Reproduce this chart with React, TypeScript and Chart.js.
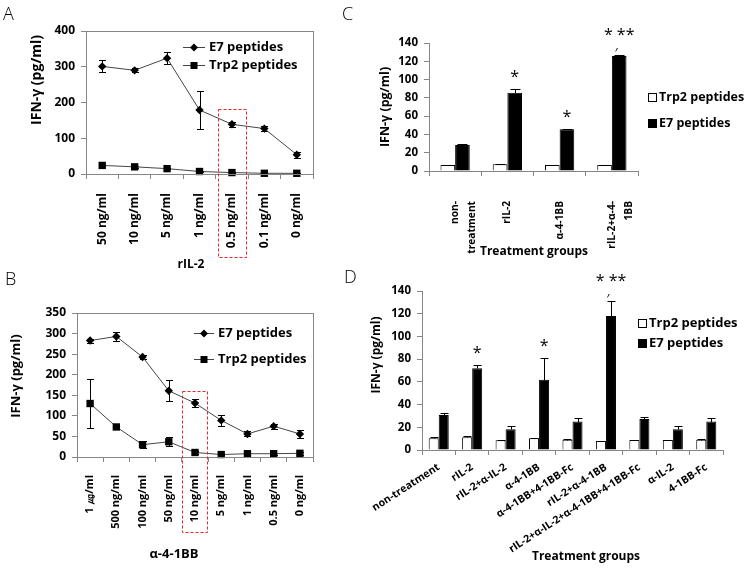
import React, { useEffect, useRef } from 'react';
import { Chart, registerables } from 'chart.js';

Chart.register(...registerables);

const FONT = "'Open Sans', 'DejaVu Sans', sans-serif";

// ---------- Panel A (rIL-2 titration) ----------
const aLabels = ['50 ng/ml', '10 ng/ml', '5 ng/ml', '1 ng/ml', '0.5 ng/ml', '0.1 ng/ml', '0 ng/ml'];
const aE7 = [301, 290, 324, 179, 139, 127, 54];
const aE7Err = [17, 6, 16, 52, 7, 8, 8];
const aTrp2 = [24, 20, 15, 7, 4, 2, 2];
const aTrp2Err = [2, 2, 2, 2, 1, 1, 1];
const aYTicks = { min: 0, max: 400, step: 100 };

// ---------- Panel B (anti-4-1BB titration) ----------
const bLabels = ['1 ㎍/ml', '500 ng/ml', '100 ng/ml', '50 ng/ml', '10 ng/ml', '5 ng/ml', '1 ng/ml', '0.5 ng/ml', '0 ng/ml'];
const bE7 = [283, 293, 243, 161, 131, 89, 56, 75, 56];
const bE7Err = [5, 11, 4, 26, 9, 13, 6, 6, 9];
const bTrp2 = [130, 73, 30, 37, 11, 6, 8, 8, 9];
const bTrp2Err = [59, 4, 9, 11, 4, 2, 2, 2, 3];
const bYTicks = { min: 0, max: 350, step: 50 };

// ---------- Panel C (treatment groups) ----------
const cLabels = [['non-', 'treatment'], 'rIL-2', 'α-4-1BB', ['rIL-2+α-4-', '1BB']];
const cTrp2 = [6.5, 7.3, 6.5, 6.5];
const cTrp2Err = [0.4, 0.4, 0.4, 0.4];
const cE7 = [28.4, 85.5, 45.8, 125.8];
const cE7Err = [0.6, 4.5, 0.6, 0.6];
const cSig = ['', '*', '*', '* **\n′'];
const cYTicks = { min: 0, max: 140, step: 20 };

// ---------- Panel D (treatment groups with blocking) ----------
const dLabels = ['non-treatment', 'rIL-2', 'rIL-2+α-IL-2', 'α-4-1BB', 'α-4-1BB+4-1BB-Fc', 'rIL-2+α-4-1BB', 'rIL-2+α-IL-2+α-4-1BB+4-1BB-Fc', 'α-IL-2', '4-1BB-Fc'];
const dTrp2 = [10.3, 11.2, 8.5, 10.3, 9.1, 7.9, 8.8, 8.8, 9.1];
const dTrp2Err = [1.4, 1.1, 0.4, 0.4, 0.5, 0.3, 0.4, 0.4, 0.5];
const dE7 = [30.8, 71.9, 18.2, 61.9, 25, 118, 27.3, 18.2, 25];
const dE7Err = [2.1, 2.9, 2.8, 18.8, 2.9, 13, 2.1, 2.8, 3];
const dSig = ['', '*', '', '*', '', '* **\n′', '', '', ''];
const dYTicks = { min: 0, max: 140, step: 20 };

const AXIS = '#868686';
const LINE = '#454545';

type Pt = { x: number; y: number };

function errorBars(errs: (number[] | null)[], capW: number, plusOnly: boolean, before: boolean) {
  const draw = (chart: any) => {
    const ctx = chart.ctx;
    ctx.save();
    ctx.strokeStyle = '#000';
    ctx.lineWidth = 1;
    chart.data.datasets.forEach((ds: any, i: number) => {
      const e = errs[i];
      if (!e) return;
      const meta = chart.getDatasetMeta(i);
      const ys = chart.scales[meta.yAxisID];
      meta.data.forEach((el: any, j: number) => {
        const v = ds.data[j] as number;
        const x = Math.round(el.x) + 0.5;
        const yt = Math.round(ys.getPixelForValue(v + e[j])) + 0.5;
        const yb = Math.round(ys.getPixelForValue(plusOnly ? v : v - e[j])) + 0.5;
        ctx.beginPath();
        ctx.moveTo(x, yt);
        ctx.lineTo(x, yb);
        ctx.moveTo(x - capW / 2, yt);
        ctx.lineTo(x + capW / 2, yt);
        if (!plusOnly) {
          ctx.moveTo(x - capW / 2, yb);
          ctx.lineTo(x + capW / 2, yb);
        }
        ctx.stroke();
      });
    });
    ctx.restore();
  };
  return before ? { id: 'errbars', beforeDatasetsDraw: draw } : { id: 'errbars', afterDatasetsDraw: draw };
}

function framePlugin() {
  return {
    id: 'frame',
    afterDraw(chart: any) {
      const { left, right, top, bottom } = chart.chartArea;
      const ctx = chart.ctx;
      ctx.save();
      ctx.strokeStyle = AXIS;
      ctx.lineWidth = 1;
      ctx.strokeRect(Math.round(left) + 0.5, Math.round(top) + 0.5, Math.round(right - left), Math.round(bottom - top));
      ctx.restore();
    },
  };
}

type TitleSpec = { text: string; at: Pt; size: number };
function titlesPlugin(yt: TitleSpec, xt: TitleSpec) {
  return {
    id: 'titles',
    afterDraw(chart: any) {
      const ctx = chart.ctx;
      ctx.save();
      ctx.fillStyle = '#000';
      ctx.textAlign = 'center';
      ctx.textBaseline = 'middle';
      ctx.font = `bold ${yt.size}px ${FONT}`;
      ctx.translate(yt.at.x, yt.at.y);
      ctx.rotate(-Math.PI / 2);
      ctx.fillText(yt.text, 0, 0);
      ctx.restore();
      ctx.save();
      ctx.fillStyle = '#000';
      ctx.textAlign = 'center';
      ctx.textBaseline = 'middle';
      ctx.font = `bold ${xt.size}px ${FONT}`;
      ctx.fillText(xt.text, xt.at.x, xt.at.y);
      ctx.restore();
    },
  };
}

type LineLegend = { x: number; rows: number[]; len: number; gap: number; size: number };
function lineLegend(spec: LineLegend) {
  return {
    id: 'lineLegend',
    afterDraw(chart: any) {
      const ctx = chart.ctx;
      ctx.save();
      chart.data.datasets.forEach((ds: any, i: number) => {
        const y = spec.rows[i] + 0.5;
        const x0 = spec.x;
        const xm = x0 + spec.len / 2;
        ctx.strokeStyle = LINE;
        ctx.lineWidth = 1;
        ctx.beginPath();
        ctx.moveTo(x0, y);
        ctx.lineTo(x0 + spec.len, y);
        ctx.stroke();
        ctx.fillStyle = '#000';
        ctx.beginPath();
        if (ds.pointStyle === 'rect') {
          ctx.rect(xm - 3.5, y - 3.5, 7, 7);
        } else {
          ctx.moveTo(xm, y - 4);
          ctx.lineTo(xm + 4, y);
          ctx.lineTo(xm, y + 4);
          ctx.lineTo(xm - 4, y);
          ctx.closePath();
        }
        ctx.fill();
        ctx.font = `bold ${spec.size}px ${FONT}`;
        ctx.textAlign = 'left';
        ctx.textBaseline = 'middle';
        ctx.fillText(ds.label, x0 + spec.len + spec.gap, y);
      });
      ctx.restore();
    },
  };
}

type BoxLegend = { x: number; rows: number[]; box: number; gap: number; size: number };
function boxLegend(spec: BoxLegend) {
  return {
    id: 'boxLegend',
    afterDraw(chart: any) {
      const ctx = chart.ctx;
      ctx.save();
      chart.data.datasets.forEach((ds: any, i: number) => {
        const y = spec.rows[i];
        const bx = spec.x + 0.5;
        const by = Math.round(y - spec.box / 2) + 0.5;
        ctx.fillStyle = ds.backgroundColor;
        ctx.strokeStyle = '#000';
        ctx.lineWidth = 1;
        ctx.fillRect(bx, by, spec.box, spec.box);
        ctx.strokeRect(bx, by, spec.box, spec.box);
        ctx.fillStyle = '#000';
        ctx.font = `bold ${spec.size}px ${FONT}`;
        ctx.textAlign = 'left';
        ctx.textBaseline = 'middle';
        ctx.fillText(ds.label, spec.x + spec.box + spec.gap, y);
      });
      ctx.restore();
    },
  };
}

function dashedBox(index: number, topValue: number, bottomPx: number, halfFrac: number) {
  return {
    id: 'dashedBox',
    afterDraw(chart: any) {
      const xs = chart.scales.x;
      const ys = chart.scales.y;
      const cx = xs.getPixelForValue(index);
      const cw = (chart.chartArea.right - chart.chartArea.left) / xs.getLabels().length;
      const half = cw * halfFrac;
      const top = ys.getPixelForValue(topValue);
      const ctx = chart.ctx;
      ctx.save();
      ctx.strokeStyle = '#e8262a';
      ctx.lineWidth = 1;
      ctx.setLineDash([3, 2]);
      ctx.strokeRect(Math.round(cx - half) + 0.5, Math.round(top) + 0.5, Math.round(half * 2), Math.round(bottomPx - top));
      ctx.restore();
    },
  };
}

function sigPlugin(marks: string[], dsIndex: number, errs: number[]) {
  return {
    id: 'sig',
    afterDatasetsDraw(chart: any) {
      const ctx = chart.ctx;
      const meta = chart.getDatasetMeta(dsIndex);
      const ys = chart.scales.y;
      const data = chart.data.datasets[dsIndex].data as number[];
      ctx.save();
      ctx.fillStyle = '#000';
      ctx.textAlign = 'center';
      ctx.textBaseline = 'alphabetic';
      marks.forEach((m, j) => {
        if (!m) return;
        const el = meta.data[j];
        const top = ys.getPixelForValue(data[j] + errs[j]);
        const lines = m.split('\n');
        ctx.font = `16px ${FONT}`;
        if (lines.length === 1) {
          ctx.fillText(lines[0], el.x, top - 15 + 8);
        } else {
          ctx.fillText(lines[0], el.x, top - 23 + 8);
          ctx.font = `13px ${FONT}`;
          ctx.fillText(lines[1], el.x - 3, top - 4 + 6);
        }
      });
      ctx.restore();
    },
  };
}

type Frame = { padTop: number; padRight: number; yWidth: number; xHeight: number };

function scalesFor(frame: Frame, yt: { min: number; max: number; step: number }, xFont: number, yFont: number, rotation: number, xPad: number, lineHeight: number) {
  return {
    x: {
      type: 'category',
      offset: true,
      grid: { display: true, drawOnChartArea: false, drawTicks: true, tickLength: 5, offset: true, color: AXIS },
      border: { display: true, color: AXIS, width: 1 },
      ticks: {
        autoSkip: false,
        minRotation: rotation,
        maxRotation: rotation,
        padding: xPad,
        color: '#000',
        font: { family: FONT, size: xFont, weight: 'bold', lineHeight },
      },
      afterFit: (s: any) => {
        s.height = frame.xHeight;
        s.paddingLeft = 0;
        s.paddingRight = 0;
      },
    },
    y: {
      min: yt.min,
      max: yt.max,
      grid: { display: true, drawOnChartArea: false, drawTicks: true, tickLength: 5, color: AXIS },
      border: { display: true, color: AXIS, width: 1 },
      ticks: {
        stepSize: yt.step,
        padding: 6,
        color: '#000',
        font: { family: FONT, size: yFont, weight: 'bold' },
      },
      afterFit: (s: any) => {
        s.width = frame.yWidth;
        s.paddingTop = 0;
        s.paddingBottom = 0;
      },
    },
  };
}

function baseOptions(frame: Frame, scales: any) {
  return {
    responsive: false,
    animation: false,
    devicePixelRatio: 1,
    events: [],
    layout: { padding: { top: frame.padTop, right: frame.padRight, left: 0, bottom: 0 } },
    plugins: { legend: { display: false }, tooltip: { enabled: false }, title: { display: false } },
    scales,
  };
}

function lineDatasets(e7: number[], trp2: number[]) {
  const common = { borderColor: LINE, borderWidth: 1, tension: 0, clip: false as any, pointBackgroundColor: '#000', pointBorderColor: '#000', pointBorderWidth: 0 };
  return [
    { ...common, label: 'E7 peptides', data: e7, pointStyle: 'rectRot', pointRadius: 4.2 },
    { ...common, label: 'Trp2 peptides', data: trp2, pointStyle: 'rect', pointRadius: 5.2 },
  ];
}

function barDatasets(trp2: number[], e7: number[], catPct: number) {
  const common = { borderColor: '#000', borderWidth: 1, barPercentage: 1, categoryPercentage: catPct, borderSkipped: 'start' };
  return [
    { ...common, label: 'Trp2 peptides', data: trp2, backgroundColor: '#ffffff' },
    { ...common, label: 'E7 peptides', data: e7, backgroundColor: '#000000' },
  ];
}

function makeA(): any {
  const frame = { padTop: 31, padRight: 57, yWidth: 86, xHeight: 96 };
  return {
    type: 'line',
    data: { labels: aLabels, datasets: lineDatasets(aE7, aTrp2) },
    options: baseOptions(frame, scalesFor(frame, aYTicks, 12, 12, 90, 14, 1.2)),
    plugins: [
      errorBars([aE7Err, aTrp2Err], 7, false, true),
      framePlugin(),
      lineLegend({ x: 183, rows: [47, 65], len: 22, gap: 4, size: 13 }),
      titlesPlugin({ text: 'IFN-γ (pg/ml)', at: { x: 37, y: 80 }, size: 14 }, { text: 'rIL-2', at: { x: 191, y: 265 }, size: 12 }),
      dashedBox(4, 182, 257, 0.43),
    ],
  };
}

function makeB(): any {
  const frame = { padTop: 43, padRight: 57, yWidth: 77, xHeight: 112 };
  return {
    type: 'line',
    data: { labels: bLabels, datasets: lineDatasets(bE7, bTrp2) },
    options: baseOptions(frame, scalesFor(frame, bYTicks, 11, 12, 90, 13, 1.2)),
    plugins: [
      errorBars([bE7Err, bTrp2Err], 7, false, true),
      framePlugin(),
      lineLegend({ x: 194, rows: [63, 89], len: 20, gap: 4, size: 13 }),
      titlesPlugin({ text: 'IFN-γ (pg/ml)', at: { x: 16, y: 106 }, size: 13 }, { text: 'α-4-1BB', at: { x: 174, y: 284 }, size: 13 }),
      dashedBox(4, 160, 262, 0.48),
    ],
  };
}

function makeC(): any {
  const frame = { padTop: 43, padRight: 109, yWidth: 59, xHeight: 99 };
  return {
    type: 'bar',
    data: { labels: cLabels, datasets: barDatasets(cTrp2, cE7, 0.56) },
    options: baseOptions(frame, scalesFor(frame, cYTicks, 10.2, 11.5, 90, 25, 1.7)),
    plugins: [
      errorBars([cTrp2Err, cE7Err], 10, true, false),
      sigPlugin(cSig, 1, cE7Err),
      boxLegend({ x: 278, rows: [97, 123], box: 8, gap: 3, size: 12.5 }),
      titlesPlugin({ text: 'IFN-γ (pg/ml)', at: { x: 15, y: 107 }, size: 12.5 }, { text: 'Treatment groups', at: { x: 164, y: 252 }, size: 12 }),
    ],
  };
}

function makeD(): any {
  const frame = { padTop: 21, padRight: 24, yWidth: 52, xHeight: 119 };
  return {
    type: 'bar',
    data: { labels: dLabels, datasets: barDatasets(dTrp2, dE7, 0.6) },
    options: baseOptions(frame, scalesFor(frame, dYTicks, 10.5, 11.5, 33, 6, 1.2)),
    plugins: [
      errorBars([dTrp2Err, dE7Err], 8, true, false),
      sigPlugin(dSig, 1, dE7Err),
      boxLegend({ x: 268, rows: [53, 73], box: 8, gap: 3, size: 13 }),
      titlesPlugin({ text: 'IFN-γ (pg/ml)', at: { x: 7, y: 85 }, size: 12 }, { text: 'Treatment groups', at: { x: 216, y: 287 }, size: 12 }),
    ],
  };
}

function ChartCanvas(props: { left: number; top: number; width: number; height: number; make: () => any }) {
  const ref = useRef<HTMLCanvasElement>(null);
  useEffect(() => {
    const canvas = ref.current;
    if (!canvas) return;
    const chart = new Chart(canvas, props.make());
    return () => chart.destroy();
  }, []);
  return (
    <canvas
      ref={ref}
      width={props.width}
      height={props.height}
      style={{ position: 'absolute', left: props.left, top: props.top, width: props.width, height: props.height }}
    />
  );
}

function Letter(props: { text: string; left: number; top: number }) {
  return (
    <div
      style={{
        position: 'absolute',
        left: props.left,
        top: props.top,
        fontFamily: FONT,
        fontWeight: 300,
        fontSize: 18,
        lineHeight: '18px',
        color: '#000',
      }}
    >
      {props.text}
    </div>
  );
}

export default function App() {
  return (
    <div style={{ position: 'absolute', left: 0, top: 0, width: 747, height: 569, background: '#fff', overflow: 'hidden' }}>
      <ChartCanvas left={0} top={0} width={370} height={270} make={makeA} />
      <ChartCanvas left={0} top={270} width={370} height={299} make={makeB} />
      <ChartCanvas left={370} top={0} width={377} height={270} make={makeC} />
      <ChartCanvas left={370} top={270} width={377} height={299} make={makeD} />
      <Letter text="A" left={3} top={4} />
      <Letter text="B" left={5} top={269} />
      <Letter text="C" left={342} top={4} />
      <Letter text="D" left={344} top={267} />
    </div>
  );
}
